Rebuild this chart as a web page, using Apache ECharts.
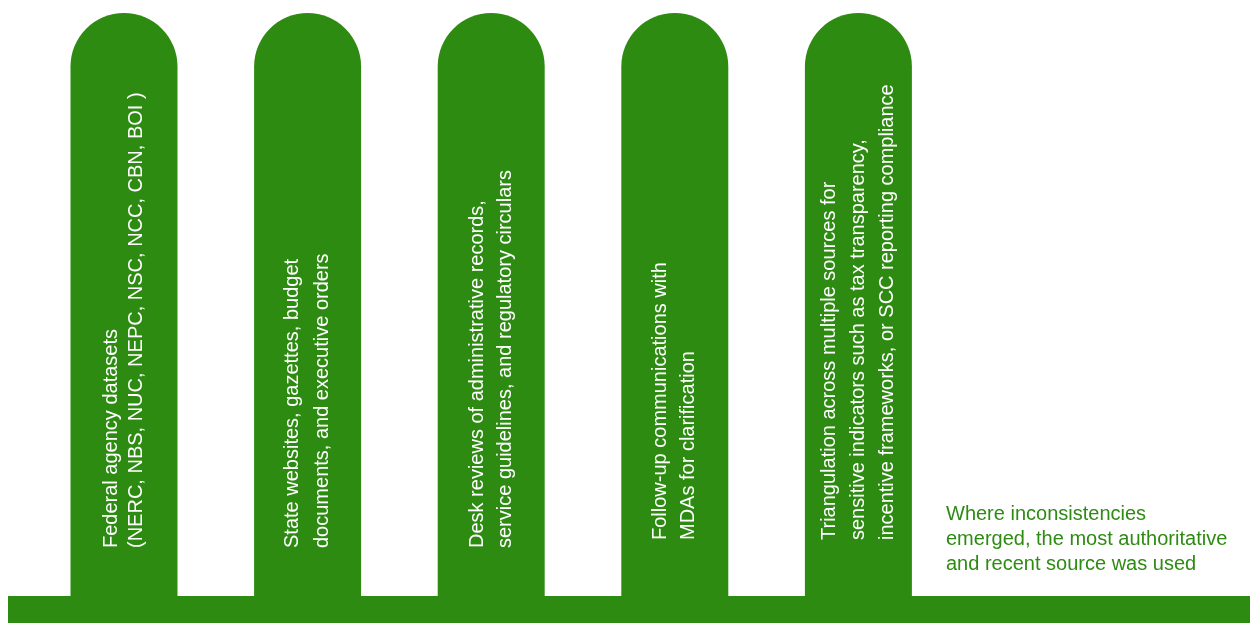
<!DOCTYPE html>
<html>
<head>
<meta charset="utf-8">
<style>
  html, body { margin: 0; padding: 0; background: #ffffff; }
  #chart { width: 1250px; height: 623px; }
</style>
<script src="https://cdn.jsdelivr.net/npm/echarts@6/dist/echarts.min.js"></script>
</head>
<body>
<div id="chart"></div>
<script>
// ---- data ----
const categories = [
  'Federal agency datasets\n(NERC, NBS, NUC, NEPC, NSC, NCC, CBN, BOI )',
  'State websites, gazettes, budget\ndocuments, and executive orders',
  'Desk reviews of administrative records,\nservice guidelines, and regulatory circulars',
  'Follow-up communications with\nMDAs for clarification',
  'Triangulation across multiple sources for\nsensitive indicators such as tax transparency,\nincentive frameworks, or SCC reporting compliance'
];
const pillarValues = [100, 100, 100, 100, 100];
const baseValues = [1];
const noteText = 'Where inconsistencies\nemerged, the most authoritative\nand recent source was used';

// ---- layout / style (kept separate from data) ----
const GREEN = '#2E8B12';
const labelLineHeights = [25, 30, 28, 28, 29];
const labelDistances = [48, 48, 48, 56, 56];
const FONT = "'Liberation Sans', Arial, sans-serif";

const pillarData = pillarValues.map((v, i) => ({
  value: v,
  label: { lineHeight: labelLineHeights[i], distance: labelDistances[i] }
}));

const chart = echarts.init(document.getElementById('chart'), null, { renderer: 'canvas' });
chart.setOption({
  animation: false,
  backgroundColor: '#ffffff',
  grid: [
    { left: 32.2, right: 299.8, top: 13, bottom: 27 },
    { left: 8, right: 0, top: 596, height: 27 }
  ],
  xAxis: [
    { type: 'category', gridIndex: 0, data: categories, show: false, boundaryGap: true },
    { type: 'value', gridIndex: 1, min: 0, max: 1, show: false }
  ],
  yAxis: [
    { type: 'value', gridIndex: 0, min: 0, max: 100, show: false },
    { type: 'category', gridIndex: 1, data: ['base'], show: false }
  ],
  series: [
    {
      type: 'bar',
      xAxisIndex: 0, yAxisIndex: 0,
      data: pillarData,
      barWidth: 107,
      itemStyle: { color: GREEN, borderRadius: [53.5, 53.5, 0, 0] },
      label: {
        show: true,
        formatter: '{b}',
        position: 'insideBottom',
        rotate: 90,
        align: 'left',
        verticalAlign: 'middle',
        color: '#ffffff',
        fontSize: 20,
        fontFamily: FONT
      },
      emphasis: { disabled: true },
      silent: true
    },
    {
      type: 'bar',
      xAxisIndex: 1, yAxisIndex: 1,
      data: baseValues,
      barWidth: '100%',
      itemStyle: { color: GREEN },
      emphasis: { disabled: true },
      silent: true
    }
  ],
  graphic: [
    {
      type: 'text',
      left: 946,
      top: 502,
      style: {
        text: noteText,
        fill: GREEN,
        font: '20px ' + FONT,
        lineHeight: 25
      },
      silent: true
    }
  ]
});
</script>
</body>
</html>
